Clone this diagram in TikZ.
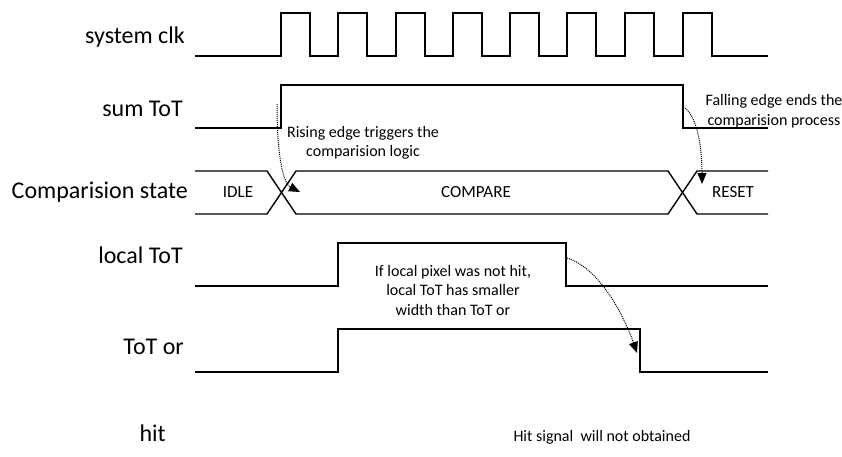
\documentclass[tikz,border=0pt]{standalone}
\usepackage{fontspec}
\setmainfont{Carlito}
\usetikzlibrary{arrows.meta}

\begin{document}
\begin{tikzpicture}[x=1pt,y=-1pt,
  sig/.style={line width=1.4pt,line join=miter},
  lbl/.style={font=\fontsize{24}{28}\selectfont,anchor=base east,inner sep=0pt},
  note/.style={font=\fontsize{16}{19.5}\selectfont,align=center,inner sep=0pt},
  busname/.style={font=\fontsize{17}{20}\selectfont,inner sep=0pt},
  hint/.style={densely dotted,line width=1pt,-{Triangle[length=11pt,width=9pt]}}]
\useasboundingbox (0,0) rectangle (842,456);
% signal names
\node[lbl] (clk)   at (185,43)  {system clk};
\node[lbl] (sum)   at (183,116) {sum ToT};
\node[lbl] (state) at (188,198) {Comparision state};
\node[lbl] (loc)   at (183,263) {local ToT};
\node[lbl] (tor)   at (184,354) {ToT or};
\node[lbl] (hit)   at (166,441) {hit};
% waveforms
\draw[sig] (195,56) \foreach \x in {281,338,396,453,510,567,625,683}
  { -- (\x,56) -- (\x,13) -- (\x+29,13) -- (\x+29,56)} -- (768,56);
\draw[sig] (195,128)--(281,128)--(281,85)--(683,85)--(683,128)--(768,128);
\draw[sig] (195,171)--(267,171)--(296,214)--(668,214)--(697,171)--(768,171);
\draw[sig] (195,214)--(267,214)--(296,171)--(668,171)--(697,214)--(768,214);
\draw[sig] (195,286)--(338,286)--(338,243)--(566,243)--(566,286)--(768,286);
\draw[sig] (195,372)--(338,372)--(338,329)--(640,329)--(640,372)--(768,372);
% state names
\node[busname] (idle) at (238,192) {IDLE};
\node[busname] (cmp)  at (476,192) {COMPARE};
\node[busname] (rst)  at (733,192) {RESET};
% remarks
\node[note] (rise) at (363,143) {Rising edge triggers the\\comparision logic};
\node[note] (fall) at (774,111) {Falling edge ends the\\comparision process};
\node[note] (why)  at (453,290) {If local pixel was not hit,\\local ToT has smaller\\width than ToT or};
\node[note] (res)  at (602,437) {Hit signal\ \ will not obtained};
% dotted hints
\coordinate (r0) at (277,104);
\coordinate (r1) at (300,192);
\coordinate (f0) at (685,108);
\coordinate (f1) at (702,184);
\coordinate (l0) at (567,258);
\coordinate (l1) at (637,353);
\draw[hint] (r0) .. controls (277,160) and (284,184) .. (r1);
\draw[hint] (f0) .. controls (698,118) and (702,150) .. (f1);
\draw[hint] (l0) .. controls (600,268) and (625,318) .. (l1);
\end{tikzpicture}
\end{document}
